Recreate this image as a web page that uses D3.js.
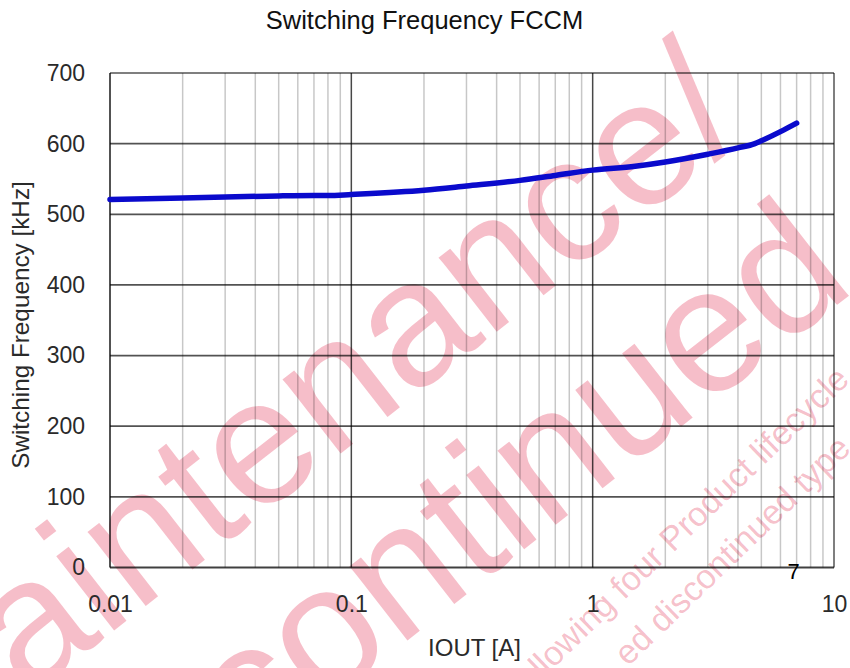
<!DOCTYPE html>
<html>
<head>
<meta charset="utf-8">
<script src="https://cdn.jsdelivr.net/npm/d3@7"></script>
<style>
  html, body { margin: 0; padding: 0; background: #fff; }
  svg { display: block; font-family: "Liberation Sans", Arial, sans-serif; }
</style>
</head>
<body>
<svg id="chart" width="850" height="668"></svg>
<script>
// ---- data ----
const iout = [0.01, 0.02, 0.03, 0.05, 0.07, 0.08, 0.1, 0.2, 0.3, 0.5, 0.7, 1, 1.5, 2, 3, 4, 4.7, 5, 6, 7];
const fsw  = [521, 523, 524.5, 526, 526.5, 526.5, 528, 534, 540, 548, 555, 562.5, 568, 574, 585, 594, 600, 604, 617, 629];
const xTickValues = [0.01, 0.1, 1, 10];
const xTickLabels = ["0.01", "0.1", "1", "10"];
const yTickValues = [0, 100, 200, 300, 400, 500, 600, 700];
const titleText = "Switching Frequency FCCM";
const xLabelText = "IOUT [A]";
const yLabelText = "Switching Frequency [kHz]";
const markerText = "7";
const watermarkBig = ["Maintenance/", "Discontinued"];
const watermarkSmall = ["following four Product lifecycle", "ed discontinued type"];

// ---- layout ----
const W = 850, H = 668;
const L = 110, R = 834, T = 73, B = 567.5;
const svg = d3.select("#chart");
svg.append("rect").attr("width", W).attr("height", H).attr("fill", "#fff");

const x = d3.scaleLog().domain([0.01, 10]).range([L, R]);
const y = d3.scaleLinear().domain([0, 700]).range([B, T]);

// ---- watermark (under everything) ----
const wm = svg.append("g").attr("fill", "rgb(225,40,75)").attr("fill-opacity", 0.3);
const bigPos = [[-90, 790], [47, 922]];
watermarkBig.forEach((t, i) => {
  wm.append("text").attr("transform", `translate(${bigPos[i][0]},${bigPos[i][1]}) rotate(-38)`)
    .attr("font-size", 178).text(t);
});
const smallPos = [[522, 699], [628, 667]];
watermarkSmall.forEach((t, i) => {
  wm.append("text").attr("transform", `translate(${smallPos[i][0]},${smallPos[i][1]}) rotate(-44)`)
    .attr("font-size", 34).text(t);
});

// ---- grid ----
const minor = [];
for (let d = 0.01; d < 10; d *= 10) {
  for (let k = 2; k <= 9; k++) minor.push(d * k);
}
const grid = svg.append("g");
grid.selectAll(".minor").data(minor).join("line")
  .attr("x1", d => x(d)).attr("x2", d => x(d)).attr("y1", T).attr("y2", B)
  .attr("stroke", "#000").attr("stroke-opacity", 0.22).attr("stroke-width", 1.5);
grid.selectAll(".majx").data([0.1, 1]).join("line")
  .attr("x1", d => x(d)).attr("x2", d => x(d)).attr("y1", T).attr("y2", B)
  .attr("stroke", "#000").attr("stroke-opacity", 0.72).attr("stroke-width", 1.5);
grid.selectAll(".majy").data(yTickValues.filter(v => v > 0 && v < 700)).join("line")
  .attr("x1", L).attr("x2", R).attr("y1", d => y(d)).attr("y2", d => y(d))
  .attr("stroke", "#000").attr("stroke-opacity", 0.68).attr("stroke-width", 1.8);
// border
grid.append("line").attr("x1", L).attr("x2", R).attr("y1", y(700)).attr("y2", y(700))
  .attr("stroke", "#000").attr("stroke-opacity", 0.5).attr("stroke-width", 2);
grid.append("line").attr("x1", R).attr("x2", R).attr("y1", T).attr("y2", B)
  .attr("stroke", "#000").attr("stroke-opacity", 0.5).attr("stroke-width", 2);
grid.append("line").attr("x1", L).attr("x2", L).attr("y1", T).attr("y2", B)
  .attr("stroke", "#000").attr("stroke-opacity", 0.68).attr("stroke-width", 2);
grid.append("line").attr("x1", L).attr("x2", R).attr("y1", y(0)).attr("y2", y(0))
  .attr("stroke", "#000").attr("stroke-opacity", 0.75).attr("stroke-width", 2);

// ---- axes (labels only) ----
const xAxis = d3.axisBottom(x).tickValues(xTickValues)
  .tickFormat((d, i) => xTickLabels[i]).tickSize(0).tickPadding(27.7);
const gx = svg.append("g").attr("transform", `translate(0,${B})`).call(xAxis);
gx.select(".domain").remove();
gx.selectAll("text").attr("font-size", 23).attr("fill", "#2a2a2a").attr("font-family", "Liberation Sans, Arial, sans-serif");

const yAxis = d3.axisLeft(y).tickValues(yTickValues).tickSize(0).tickPadding(25);
const gy = svg.append("g").attr("transform", `translate(${L},0)`).call(yAxis);
gy.select(".domain").remove();
gy.selectAll("text").attr("font-size", 23).attr("fill", "#2a2a2a").attr("font-family", "Liberation Sans, Arial, sans-serif");

// ---- curve ----
const pts = iout.map((v, i) => [v, fsw[i]]);
svg.append("path").datum(pts)
  .attr("fill", "none").attr("stroke", "#0a0acc").attr("stroke-width", 5.5)
  .attr("stroke-linecap", "round").attr("stroke-linejoin", "round")
  .attr("d", d3.line().x(d => x(d[0])).y(d => y(d[1])).curve(d3.curveMonotoneX));

// ---- texts ----
svg.append("text").attr("x", 424.5).attr("y", 28.5).attr("text-anchor", "middle")
  .attr("font-size", 25.5).attr("fill", "#111").text(titleText);
svg.append("text").attr("x", 474.5).attr("y", 656).attr("text-anchor", "middle")
  .attr("font-size", 24).attr("fill", "#2a2a2a").text(xLabelText);
svg.append("text").attr("transform", "translate(29,325) rotate(-90)").attr("text-anchor", "middle")
  .attr("font-size", 24.3).attr("fill", "#2a2a2a").text(yLabelText);
svg.append("text").attr("x", x(7) - 3).attr("y", 579).attr("text-anchor", "middle")
  .attr("font-size", 22).attr("fill", "#000").text(markerText);
</script>
</body>
</html>
